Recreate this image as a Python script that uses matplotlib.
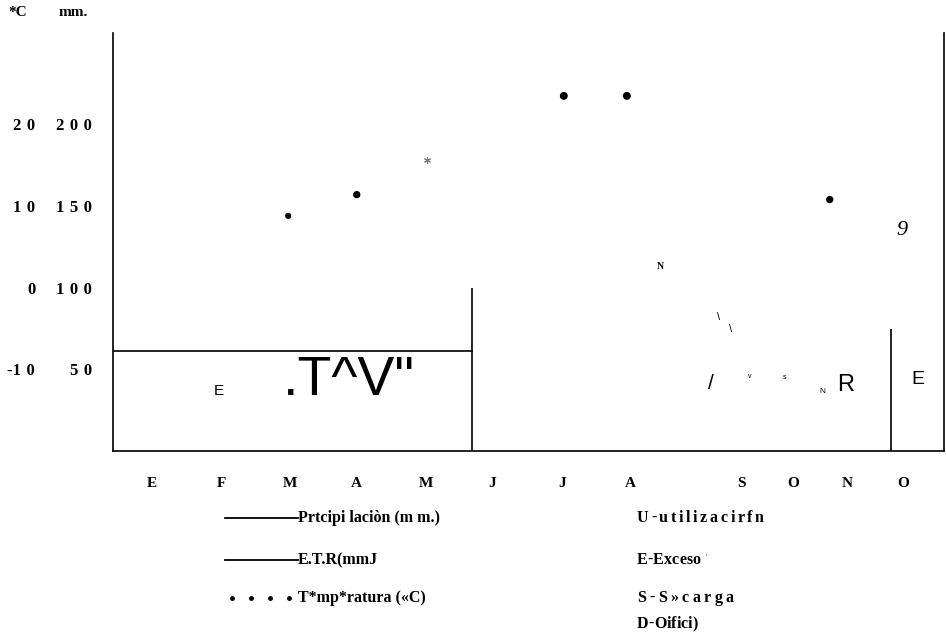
import matplotlib.pyplot as plt
from matplotlib.lines import Line2D

# --- datos del climograma ---
meses = ["E", "F", "M", "A", "M", "J", "J", "A", "S", "O", "N", "O"]
pos_meses = [0.56, 1.57, 2.55, 3.52, 4.52, 5.47, 6.48, 7.47, 9.07, 9.82, 10.60, 11.41]

mm_ticks = [50, 100, 150, 200]
mm_labels = ["50", "100", "150", "200"]
temp_ticks = [-10, 0, 10, 20]
temp_labels = ["-10", "0", "10", "20"]

# temperatura media (grados C)
temp_x = [2.53, 3.52, 6.51, 7.42, 10.35]
temp_val = [8.8, 11.4, 23.5, 23.5, 10.8]
temp_size = [12, 18, 22, 22, 18]
temp_mayo_x = 4.53
temp_mayo = 15.7

# precipitacion / E.T.R. (mm)
precip_x = [0, 5.18]
precip_val = [61, 61]
verticales_x = [5.18, 11.23]
verticales_top = [100, 75]

SERIF = ["Liberation Serif", "DejaVu Serif"]
SANS = "Liberation Sans"
ESP = "\u2004"  # espacio de 1/3 em entre cifras


def espaciar(s):
    # separa las cifras, el signo queda pegado
    signo = "-" if s.startswith("-") else ""
    return signo + ESP.join(s.lstrip("-"))


fig = plt.figure(figsize=(9.46, 6.33), dpi=100)
ax = fig.add_axes([113 / 946, 1 - 451 / 633, 831 / 946, 418 / 633])
ax.set_xlim(0, 12)
ax.set_ylim(0, 256)

ax.spines["top"].set_visible(False)
for s in ["left", "bottom", "right"]:
    ax.spines[s].set_linewidth(1.2)

ax.set_yticks(mm_ticks)
ax.set_yticklabels([espaciar(t) for t in mm_labels], fontfamily=SERIF,
                   fontweight="bold", fontsize=12)
ax.set_xticks(pos_meses)
ax.set_xticklabels(meses, fontfamily=SERIF, fontweight="bold", fontsize=11)
ax.tick_params(axis="y", length=0, pad=15)
ax.tick_params(axis="x", length=0, pad=19)

# segunda escala: temperatura
ax2 = ax.twinx()
ax2.set_ylim((0 - 100) / 5, (256 - 100) / 5)
for s in ax2.spines.values():
    s.set_visible(False)
ax2.yaxis.set_ticks_position("left")
ax2.set_yticks(temp_ticks)
ax2.set_yticklabels([espaciar(t) for t in temp_labels], fontfamily=SERIF,
                    fontweight="bold", fontsize=12)
ax2.tick_params(axis="y", length=0, pad=56)

# lineas de precipitacion
ax.plot(precip_x, precip_val, color="black", lw=1.2)
ax.vlines(verticales_x, 0, verticales_top, color="black", lw=1.2)

# puntos de temperatura
ax2.scatter(temp_x, temp_val, s=temp_size, color="black", zorder=3)
ax2.scatter([temp_mayo_x], [temp_mayo], s=18, marker=(6, 2, 0), color="#777777", lw=0.8)

# letras sueltas dentro del grafico
ax.text(1.53, 36.5, "E", fontsize=11, family=SANS, ha="center", va="center")
ax.text(3.40, 43, ".T^V\"", fontsize=40, family=SANS, ha="center", va="center")
ax.text(7.91, 113, "N", fontsize=7, family=SERIF, fontweight="bold", ha="center", va="center")
ax.text(8.75, 81.8, "\\", fontsize=8, family=SANS, ha="center", va="center")
ax.text(8.92, 74.5, "\\", fontsize=8, family=SANS, ha="center", va="center")
ax.text(8.64, 41.4, "/", fontsize=15, family=SANS, ha="center", va="center")
ax.text(9.20, 45.7, "v", fontsize=5, family=SANS, ha="center", va="center")
ax.text(9.70, 45.1, "s", fontsize=5, family=SANS, ha="center", va="center")
ax.text(10.24, 36.6, "N", fontsize=6, family=SANS, ha="center", va="center")
ax.text(10.58, 40.2, "R", fontsize=17, family=SANS, ha="center", va="center")
ax.text(11.62, 43.9, "E", fontsize=14, family=SANS, ha="center", va="center")
ax.text(11.39, 135, "9", fontsize=16, family=SERIF, style="italic", ha="center", va="center")


# unidades de los ejes
def fx(px):
    return px / 946


def fy(py):
    return 1 - py / 633


def texto_espaciado(x, y, s, extra, **kw):
    # escribe letra a letra dejando 'extra' pixeles entre cada una
    r = fig.canvas.get_renderer()
    for ch in s:
        t = fig.text(x, y, ch, ha="left", va="center", **kw)
        x += (t.get_window_extent(r).width + extra) / 946


fig.text(fx(18), fy(12), "*C", family=SERIF, fontweight="bold", fontsize=11, ha="center", va="center")
fig.text(fx(73), fy(12), "mm.", family=SERIF, fontweight="bold", fontsize=11, ha="center", va="center")

# leyenda
fig.add_artist(Line2D([fx(225), fx(298)], [fy(518), fy(518)], color="black", lw=1.3))
fig.add_artist(Line2D([fx(225), fx(298)], [fy(560), fy(560)], color="black", lw=1.3))
fig.add_artist(Line2D([fx(232), fx(251), fx(270), fx(289)], [fy(598)] * 4,
                      color="black", lw=0, marker="o", markersize=2.5))
ley_izq = ["Prtcipi laciòn (m m.)", "E.T.R(mmJ", "T*mp*ratura («C)"]
for texto, py in zip(ley_izq, [518, 560, 598]):
    fig.text(fx(298), fy(py), texto, family=SERIF, fontweight="bold", fontsize=11.5,
             ha="left", va="center")

ley_der = ["U-utilizacirfn", "E-Exceso", "S-S»carga", "D-Oifici)"]
ley_der_y = [518, 560, 598, 624]
ley_der_extra = [2.6, 0, 3.4, 0]
for texto, py, extra in zip(ley_der, ley_der_y, ley_der_extra):
    texto_espaciado(fx(637), fy(py), texto, extra, family=SERIF, fontweight="bold",
                    fontsize=11.5)
fig.text(fx(706), fy(557), "'", family=SANS, fontsize=5, ha="center", va="center")

fig.savefig("out.png", dpi=100)
